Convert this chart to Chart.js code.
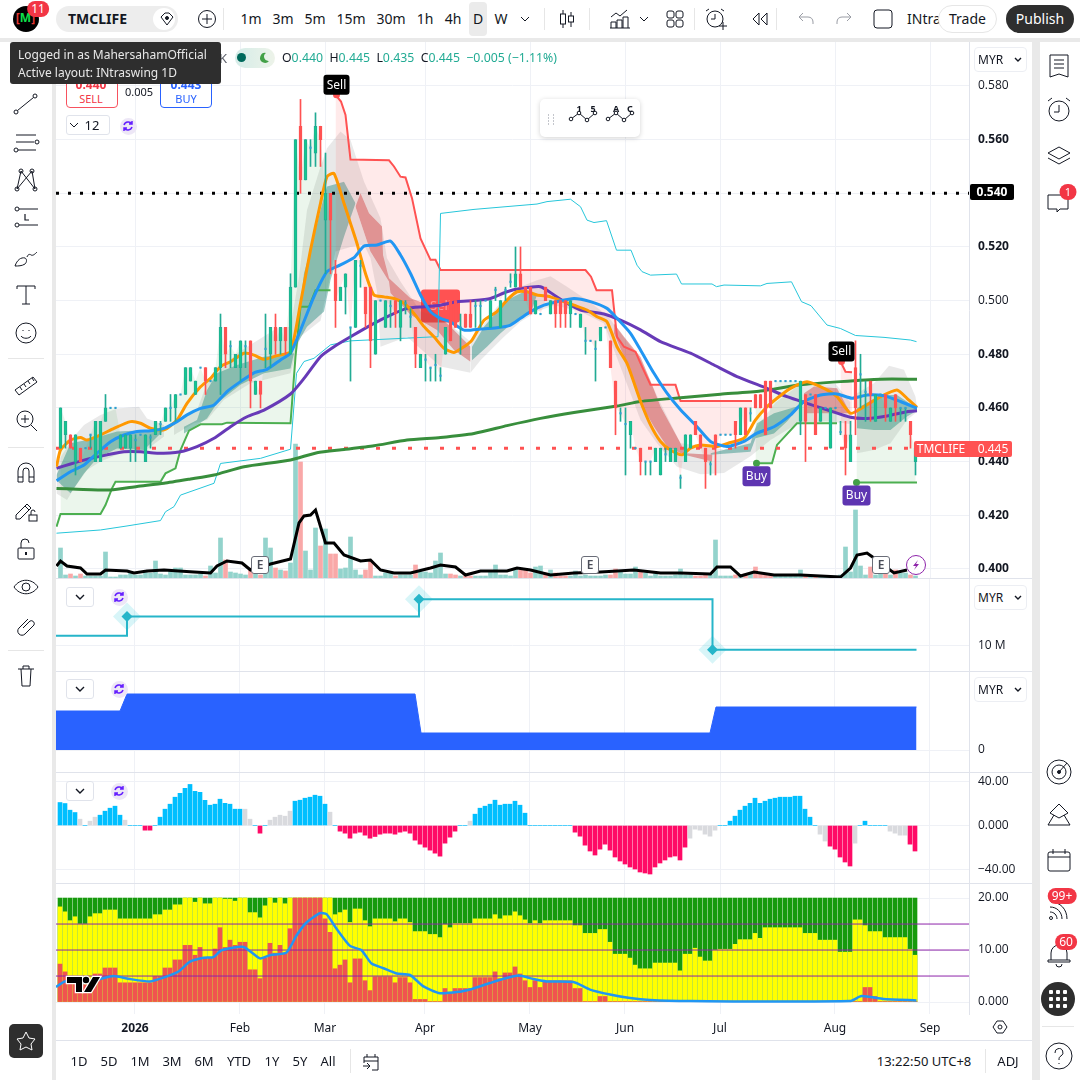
<!DOCTYPE html>
<html>
<head>
<meta charset="utf-8">
<title>TMCLIFE</title>
<script src="https://cdn.jsdelivr.net/npm/chart.js@4"></script>
<style>
  html, body { margin: 0; padding: 0; background: #e9e9e9; }
  body { width: 1080px; height: 1080px; position: relative; overflow: hidden; font-family: "Noto Sans", sans-serif; color: #131722; }
  .panel { position: absolute; background: #fff; }
  canvas { position: absolute; left: 56px; }
  .c { position: absolute; transform: translate(-50%, -50%); white-space: nowrap; line-height: 1; }
  .l { position: absolute; transform: translateY(-50%); white-space: nowrap; line-height: 1; }
  .hr { position: absolute; left: 56px; width: 976px; height: 1px; background: #e0e3eb; }
  svg { position: absolute; transform: translate(-50%, -50%); fill: none; stroke: #131722; stroke-width: 1; overflow: visible; }
  .badge { position: absolute; transform: translate(-50%, -50%); background: #f23645; color: #fff; border-radius: 10px; font-size: 12px; line-height: 16px; padding: 0 4px; min-width: 9px; text-align: center; }
</style>
</head>
<body>
<div class="panel" style="left:0;top:0;width:1080px;height:38px"></div>
<div class="panel" style="left:0;top:42px;width:52px;height:1038px"></div>
<div class="panel" style="left:56px;top:42px;width:976px;height:1038px"></div>
<div class="panel" style="left:1040px;top:42px;width:40px;height:1038px"></div>

<canvas id="mainPane" style="top:42px" width="976" height="536"></canvas>
<canvas id="stepPane" style="top:579px" width="976" height="92"></canvas>
<canvas id="areaPane" style="top:672px" width="976" height="100"></canvas>
<canvas id="oscPane" style="top:773px" width="976" height="110"></canvas>
<canvas id="flowPane" style="top:884px" width="976" height="156"></canvas>

<div class="hr" style="top:578px"></div>
<div class="hr" style="top:671px"></div>
<div class="hr" style="top:772px"></div>
<div class="hr" style="top:883px"></div>
<div class="hr" style="top:1040px"></div>
<div id="ui"></div>

<script>
// ---- data, x is the bar number (0 = first full bar) ----
var barCount = 172;
var monthTicks = [15, 36, 53, 73, 94, 113, 132, 155, 174];
var monthLabels = ['2026', 'Feb', 'Mar', 'Apr', 'May', 'Jun', 'Jul', 'Aug', 'Sep'];
var priceTicks = [0.58, 0.56, 0.54, 0.52, 0.50, 0.48, 0.46, 0.44, 0.42, 0.40];

var opens = [.445,.45,.45,.44,.445,.445,.45,.44,.44,.455,.46,.46,.445,.445,.445,.448,.45,.44,.449,.45,.454,.455,.46,.46,.465,.465,.47,.465,.475,.475,.47,.47,.475,.49,.483,.475,.475,.483,.485,.465,.47,.482,.48,.49,.485,.49,.48,.505,.565,.545,.557,.555,.565,.53,.54,.51,.50,.505,.49,.49,.513,.505,.505,.48,.50,.49,.498,.50,.49,.499,.494,.49,.475,.478,.475,.476,.472,.48,.50,.50,.49,.495,.495,.498,.498,.50,.49,.504,.49,.504,.507,.505,.51,.505,.505,.495,.495,.505,.495,.50,.50,.50,.495,.495,.49,.485,.485,.482,.485,.49,.485,.47,.458,.454,.45,.445,.445,.44,.44,.44,.435,.4427,.44,.44,.434,.44,.445,.455,.45,.445,.439,.45,.45,.45,.45,.455,.45,.46,.458,.465,.465,.47,.47,.47,.47,.47,.47,.47,.455,.465,.465,.465,.455,.46,.445,.46,.451,.45,.44,.475,.4725,.466,.47,.455,.465,.465,.455,.465,.46,.46,.455,.44];
var highs = [.46,.455,.45,.45,.445,.445,.45,.455,.455,.465,.46,.46,.45,.45,.45,.45,.45,.45,.45,.455,.455,.46,.465,.465,.465,.475,.475,.47,.475,.475,.47,.475,.495,.49,.485,.48,.485,.485,.485,.47,.47,.495,.49,.495,.49,.49,.51,.56,.575,.56,.56,.57,.565,.555,.54,.515,.505,.51,.49,.515,.515,.505,.505,.50,.50,.50,.50,.50,.50,.50,.497,.49,.48,.48,.475,.48,.475,.49,.50,.50,.495,.495,.50,.50,.50,.50,.50,.505,.50,.505,.51,.52,.52,.505,.505,.50,.495,.505,.50,.50,.50,.50,.50,.495,.495,.49,.485,.485,.49,.49,.485,.47,.46,.46,.455,.445,.445,.44,.44,.445,.445,.445,.445,.445,.435,.45,.45,.455,.45,.445,.44,.45,.45,.45,.45,.455,.46,.46,.46,.465,.465,.47,.47,.47,.47,.47,.47,.47,.47,.465,.465,.465,.46,.46,.46,.46,.455,.455,.455,.485,.48,.47,.47,.465,.465,.465,.46,.465,.46,.46,.455,.445];
var lows = [.445,.445,.445,.435,.44,.445,.445,.44,.44,.455,.46,.46,.445,.445,.44,.44,.45,.44,.445,.45,.45,.455,.455,.455,.465,.465,.47,.465,.475,.465,.47,.47,.465,.475,.475,.475,.47,.475,.46,.465,.46,.475,.475,.48,.48,.48,.48,.505,.54,.545,.55,.55,.55,.51,.51,.49,.50,.495,.47,.49,.505,.49,.475,.48,.50,.49,.49,.49,.485,.495,.49,.475,.475,.47,.47,.47,.47,.48,.485,.49,.48,.49,.49,.49,.49,.50,.49,.50,.49,.50,.505,.505,.505,.50,.495,.495,.495,.50,.495,.49,.49,.49,.49,.495,.49,.48,.485,.47,.485,.49,.475,.45,.455,.435,.445,.445,.435,.435,.435,.44,.435,.44,.44,.44,.43,.44,.445,.45,.445,.43,.435,.435,.45,.45,.45,.445,.45,.45,.455,.46,.46,.45,.46,.47,.47,.47,.47,.47,.45,.44,.465,.45,.455,.46,.445,.46,.45,.435,.44,.45,.46,.455,.455,.455,.465,.455,.455,.455,.455,.455,.445,.435];
var closes = [.46,.455,.445,.45,.44,.445,.45,.455,.455,.46,.46,.46,.45,.45,.45,.448,.45,.45,.449,.455,.454,.46,.46,.465,.465,.475,.475,.47,.475,.47,.47,.475,.49,.48,.483,.48,.485,.483,.47,.47,.465,.482,.49,.485,.49,.485,.505,.56,.545,.56,.557,.565,.56,.54,.53,.50,.505,.51,.49,.515,.513,.495,.485,.50,.50,.50,.498,.495,.50,.499,.494,.48,.48,.478,.475,.476,.472,.49,.485,.49,.49,.49,.49,.498,.498,.50,.50,.504,.50,.504,.507,.51,.505,.50,.495,.50,.495,.50,.50,.495,.495,.495,.50,.495,.495,.485,.485,.482,.49,.49,.475,.46,.458,.454,.455,.445,.44,.44,.44,.445,.445,.4427,.445,.445,.434,.45,.45,.45,.445,.44,.439,.445,.45,.45,.45,.45,.46,.45,.458,.46,.46,.45,.46,.47,.47,.47,.47,.47,.47,.455,.465,.45,.46,.46,.46,.46,.451,.445,.45,.46,.4725,.466,.465,.465,.465,.46,.46,.46,.46,.46,.45,.445];
var volumes = [30,3,4,2,4,2,2,2,2,26,1,1,3,3,6,3,3,6,5,17,4,3,8,10,10,3,3,3,4,2,12,5,40,18,6,5,4,3,10,4,3,40,30,10,8,7,15,134,116,27,8,50,32,49,24,24,9,10,41,8,3,8,17,2,2,5,5,2,3,3,3,13,6,6,5,17,25,4,4,3,2,2,2,2,2,2,7,13,3,3,2,10,8,8,5,11,12,5,8,5,2,2,2,7,2,3,2,2,2,3,3,9,7,4,4,11,6,5,2,4,2,2,2,3,9,3,3,2,2,3,3,38,2,2,2,3,3,4,4,11,5,4,3,2,2,2,2,3,8,3,3,2,2,2,2,2,3,31,6,68,12,3,11,3,4,5,3,8,5,5,3,2];
var volumeUpBars = [131, 157, 159];

var blackLine = [[-.8,12],[0,17],[1.3,12],[4,10],[5.3,4],[8,4],[9,8],[13.3,7],[14.7,5],[17.3,7],[20.7,8],[26.7,6],[30,5],[31.3,12],[33.3,17],[36.3,15],[38,8],[42,14],[46,19],[47.7,55],[48.7,62],[50,63],[51,68],[53,35],[54.7,35],[56.7,23],[60,17],[62,18],[64,8],[66.7,5],[70,5],[74,10],[76,13],[79,11],[81,3],[84,7],[89.3,7],[91.3,10],[94,8],[98,3],[102.7,5],[108,6],[114.7,8],[120,5],[124,5],[130,4],[131.3,11],[134,11],[136,2],[138.7,6],[142.7,3],[148,3],[156,1],[158,10],[159.3,23],[161.3,25],[162.7,20],[166.7,5],[169.3,8]];
var orangeLine = [[-.8,.4381],[0,.4443],[2,.448],[4,.449],[5.3,.448],[8,.4499],[10.7,.4524],[14,.4549],[16,.4543],[18,.4524],[20.7,.4518],[23.3,.4555],[25.3,.4617],[28,.4679],[30,.471],[32,.4754],[34,.4772],[36.7,.4804],[38.7,.4797],[40.7,.4781],[43.3,.4795],[46,.481],[48,.499],[50,.5189],[52,.5363],[53.3,.5462],[54.7,.5474],[56.7,.5363],[58,.5288],[59.3,.5213],[61,.5101],[62.7,.5021],[64.7,.5014],[66.7,.5008],[68.7,.499],[70.7,.4952],[72.7,.4903],[74.7,.4865],[76.7,.4822],[78.7,.4807],[80.7,.4828],[82.3,.4853],[84.7,.4927],[87.3,.4959],[89.3,.5002],[91.3,.5033],[93.3,.5033],[95.3,.5021],[98,.5014],[100.7,.4996],[102.7,.4983],[105.3,.4965],[107.3,.494],[109.3,.4921],[111.3,.4828],[113.3,.4766],[116,.4625],[118,.4537],[120,.4475],[122,.4443],[124.3,.4425],[126,.445],[128,.4462],[131.3,.4456],[134,.4471],[136.7,.4487],[139,.4555],[141,.4599],[143.3,.4636],[146,.4673],[149.3,.4698],[152.7,.4673],[155.3,.4642],[158,.458],[160.7,.4605],[164,.4642],[167.3,.4667],[169.3,.4636],[171.3,.4602]];
var blueLine = [[-.8,.4329],[2,.4362],[4.7,.4387],[7.3,.4431],[10,.4474],[12.7,.4499],[15.3,.4512],[18,.4515],[20.7,.4524],[23.3,.4549],[25.3,.4574],[28,.4598],[30.7,.4611],[33.3,.4661],[36,.4698],[38.7,.4731],[41.3,.4744],[44,.4779],[46,.4804],[48,.489],[50.7,.5015],[53.3,.5108],[56,.5133],[58.7,.5160],[60.7,.5203],[63.3,.5207],[66,.5222],[68,.517],[70,.5101],[72,.5021],[74,.4959],[76,.4934],[78,.4921],[80.7,.489],[84,.4894],[87.3,.4899],[90,.4909],[92,.4934],[94,.4959],[96.7,.4983],[99.3,.4996],[102.7,.5008],[106,.4996],[109.3,.4971],[111.3,.4934],[114,.4878],[116,.4816],[118.7,.4729],[121.3,.4655],[124,.4593],[127.3,.453],[130,.4475],[133.3,.4456],[136.7,.4475],[139.3,.4506],[142.7,.453],[146,.4574],[148.7,.4624],[152,.4648],[155.3,.4652],[158.3,.4636],[161.3,.4648],[164.7,.4645],[168,.4624],[171.3,.4599]];
var purpleLine = [[-.8,.4375],[2,.4391],[6,.4412],[9.3,.4425],[12.7,.4437],[16,.4437],[19.3,.4431],[24,.4437],[27.3,.4456],[30.7,.4487],[34,.453],[37.3,.4567],[40.7,.4592],[46,.4652],[48.7,.471],[52,.4791],[54.7,.4828],[58,.4865],[62.7,.4915],[66,.4946],[69.3,.4971],[72.7,.4977],[76,.4983],[79.3,.4996],[82.7,.5],[86,.5008],[89.3,.5033],[92,.5045],[96,.5052],[98.7,.5021],[101.3,.499],[104,.4965],[108.7,.495],[112,.4927],[116,.4891],[120,.4847],[126,.4804],[130.7,.476],[135.3,.4717],[141.3,.4673],[145.3,.4642],[149.3,.4617],[153.3,.4593],[158,.4565],[161.3,.4561],[165.3,.457],[169.3,.4586],[171.3,.4589]];
var slowLine = [[-.8,.43],[3.3,.4297],[10,.4294],[15.3,.4307],[20.7,.4319],[26,.4335],[30.7,.435],[36.7,.4381],[46,.4406],[51.3,.4433],[56.7,.4445],[62.7,.4459],[69.3,.448],[76,.449],[82.7,.4505],[89.3,.4534],[96,.4561],[102.7,.4583],[111.3,.4607],[116,.4624],[124,.4638],[132,.4651],[140,.4663],[148,.4686],[156,.4698],[164,.4707],[171.3,.4707]];
var cyanLine = [[-.8,.4133],[8,.4145],[13.3,.416],[20,.418],[21,.4213],[22.7,.4232],[24,.4275],[30.7,.4319],[32,.4393],[40,.4412],[46,.4446],[47.2,.4729],[48.7,.4773],[50.7,.4785],[54,.4835],[58,.485],[74.7,.4865],[75.5,.4865],[76,.5325],[82.7,.534],[95.3,.536],[97.3,.5369],[102,.5378],[104,.535],[105.3,.53],[106.7,.5291],[109.2,.5298],[111.2,.5188],[114.1,.5188],[115.3,.5132],[116.3,.5108],[118,.5095],[123.2,.5099],[124.2,.5062],[130.3,.5062],[131.2,.5052],[132.7,.5058],[140,.5055],[141.3,.5064],[146.2,.507],[148.2,.4996],[150.1,.4981],[153.3,.4909],[156,.4896],[159,.487],[164.7,.4863],[170,.4853],[171.2,.4847]];

var stopRedA = [[55,.5767],[56.1,.5742],[57,.5692],[58,.5526],[65.7,.5523],[66.7,.55],[68,.5462],[69,.5459],[70.3,.5382],[72,.5232],[74,.5152],[75,.5152],[76,.5114],[105,.5114],[106.1,.5089],[107.2,.5039],[110.3,.5039],[111.3,.4865],[112.7,.4828],[115,.4809],[116.3,.4754],[118,.4686],[123,.4686],[124,.4626],[138.3,.4626]];
var stopRedB = [[156,.4773],[157,.4735],[158.3,.4733]];
var stopGreenA = [[-.8,.4157],[0,.4205],[8,.4205],[9,.4238],[10.3,.43],[11,.4325],[20,.4325],[21,.4356],[23,.4375],[24,.4443],[25.7,.4515],[28,.4539],[32.3,.4539],[33.3,.4545],[46,.4543],[47,.4791],[48,.4977],[49.7,.4977],[51,.5039],[54,.5039]];
var stopGreenB = [[139,.4394],[142.3,.4394],[143.3,.4462],[147.3,.4543],[155.3,.4543]];
var stopGreenC = [[159.2,.4322],[171.3,.4322]];

// cloud edges, upper then lower
var grayA = [[[-.8,.4394],[2.7,.4493],[4.7,.4536],[8,.4574],[11.3,.4598],[15.7,.4604],[17.3,.4561],[20.7,.4536]], [[-.8,.4281],[1.3,.4257],[2.7,.43],[5.3,.4369],[8,.44],[12,.4431],[16.7,.4437],[20.7,.4493]]];
var grayB = [[[22.7,.4543],[27.3,.4592],[29.3,.4692],[35.3,.4804],[38,.4835],[43.3,.4897],[46,.4903],[47.7,.5089],[49.3,.5338],[52,.5499],[53.3,.5568],[56,.563],[58,.5599],[60.7,.5444],[64,.5307],[65.3,.5158],[68,.5071],[72,.4959],[76,.494],[82,.4847]], [[22.7,.4499],[26.7,.4543],[29.3,.4555],[32.7,.463],[38,.4692],[46,.4729],[48,.4866],[52,.4925],[55,.5183],[58,.52],[60.7,.5208],[62,.5158],[63.3,.5034],[64,.4828],[69.3,.4865],[76,.4754],[82,.4731]]];
var grayD = [[[82,.4847],[87.3,.4977],[92,.5052],[95.3,.5076],[98,.5091],[101.3,.5052],[105.3,.5002],[109.3,.4946],[116,.478],[120,.4617],[124,.4468],[130.3,.4454],[132.7,.4444],[138,.45],[143,.462],[147.3,.468],[155,.469],[158,.462]], [[82,.4731],[84,.4778],[88.7,.4865],[92,.4921],[95.3,.4959],[98.7,.4983],[104,.4959],[108.7,.4915],[116,.4555],[119.3,.4468],[123.3,.4381],[128,.4353],[132.7,.4357],[138,.442],[142,.448],[147.3,.454],[153,.455],[158,.454]]];
var grayG = [[[159.3,.4655],[162.7,.4692],[165.7,.4757],[168.7,.4742],[171,.4642],[171.3,.4602]], [[159.3,.4431],[162.7,.4443],[166,.4468],[169.3,.4555],[171.3,.4586]]];
var tealA = [[[-.8,.435],[2,.4468],[6,.4483],[11.3,.4512],[18,.4518],[20.7,.4518]], [[-.8,.433],[2,.4282],[4.7,.4356],[7.3,.4412],[11.3,.4449],[16.7,.4443],[20.7,.4518]]];
var tealB = [[[24.7,.453],[27.3,.4555],[29.3,.4667],[31.3,.4729],[35.3,.476],[40.7,.4791],[46.7,.4804],[47,.4828]], [[24.7,.4505],[29.3,.4561],[31.3,.4617],[36,.4686],[40.7,.4729],[46,.4747],[47,.4828]]];
var tealC = [[[47,.4828],[48.7,.5102],[50,.5189],[52,.5338],[53.3,.5425],[56.7,.5443],[59,.5363]], [[47,.4828],[49.3,.4903],[52.7,.4959],[54,.5077],[56.7,.5238],[59,.5363]]];
var tealD = [[[82.3,.4828],[84.7,.4903],[89.3,.5002],[93.3,.5039],[95.3,.5021]], [[82.3,.4778],[85.3,.4828],[88,.4878],[90.7,.4921],[94,.4952],[95.3,.5021]]];
var tealE = [[[130,.4431],[138,.4468],[139.3,.4543],[142.7,.458],[147.3,.4605]], [[130,.4425],[138,.4437],[139,.4487],[142.7,.4505],[145.3,.4549],[147.3,.4593]]];
var tealF = [[[159.3,.4599],[164,.4648],[167.3,.4648],[171.3,.4599]], [[159.3,.4524],[162.7,.4518],[166,.4518],[169.3,.4568],[171.3,.4589]]];
var redA = [[[59,.5351],[60,.54],[61.7,.5326],[64.3,.5276],[64.5,.517],[65.7,.5083],[70,.5009],[72.7,.499],[78,.4903],[82,.4828]], [[59,.5351],[62,.5183],[65.7,.5071],[66,.5028],[70,.4947],[75.3,.489],[78.7,.4816],[82,.4772]]];
var redB = [[[110.7,.4915],[112.7,.4865],[116,.479],[118,.47],[120,.4605],[124,.4468],[125,.4431],[130.3,.4425]], [[110.7,.4878],[113.3,.4766],[116,.4617],[118.7,.453],[121.3,.4456],[124.7,.4425],[130.3,.44]]];
var redC = [[[148.7,.4655],[150.7,.468],[155.3,.4673],[158,.458]], [[148.7,.458],[153.3,.458],[158,.458]]];

var priceLevels = [0.54, 0.445];
var signalBars = [55.2, 156.2, 139.2, 159.2];
var signalPrices = [0.5767, 0.4773, 0.4394, 0.4322];
var signalTexts = ['Sell', 'Sell', 'Buy', 'Buy'];
var blockBar = 76, blockPrice = 0.5;

var stepBars = [-0.8, 13.4, 71.8, 130.5, 171.3];
var stepValues = [10.43, 11.26, 12.0, 9.83, 9.83];
var markerBars = [13.4, 71.8, 130.5];
var markerValues = [11.26, 12.0, 9.83];

var areaBars = [-0.8, 12, 13.4, 71, 72.2, 130, 131.2, 171.3];
var areaValues = [39, 39, 56, 56, 17, 17, 43, 43];

var oscValues = [20.7,19.8,13.8,11.7,5.7,0,3.9,7.5,9.3,12.9,15.6,17.4,9.3,4.8,0,0,0,-4.2,-4.2,0,7.5,14.7,19.2,25.5,29,33.5,37,30.8,29.9,22.7,18.3,19.2,23.7,20,19.2,14.7,14.7,14.7,5.7,0,-6.9,0,4.8,7.5,9.3,8.4,12.9,21.9,22.8,24.6,25.5,27.3,26.4,19.2,12,0,-5.1,-6.9,-11.4,-6.9,-6,-8.7,-11.4,-9.9,-7.8,-6.9,-6.9,-7.8,-6,-5.1,-6.9,-13.2,-16.8,-19.5,-22.2,-24.9,-27.6,-15.9,-10.5,-5.1,0,0,3.9,10.2,15.6,17.4,19.2,22.8,18.3,19.2,19.2,21.9,18.3,11.1,0,0,0,0,0,0,0,0,0,-6,-9.6,-17.7,-23,-26.6,-21.3,-16.8,-22.2,-28.4,-32,-34.7,-37.4,-39.2,-41.9,-42.8,-43.7,-37.4,-33.8,-31.1,-28.4,-27.5,-31.1,-19.5,-11.4,-3.3,-4.2,-7.8,-9.6,-4.2,0,0,3.9,8.4,13.8,17.4,20,24.6,20,21.9,23.7,24.6,25.5,25.5,25.5,26.4,26.4,14.7,7.5,0,-7.8,-14,-18.6,-21.3,-28.4,-32.9,-36.5,-15.9,0,3.9,0,0,0,0,-5.1,-6.9,-8.7,-8.7,-16.8,-23];
var oscGray = [4,6,7,13,37,38,42,43,44,45,46,54,82,126,127,128,129,130,131,152,153,159,166,167,168,169];

var yellowTop = [18.3,17.35,15.65,16.4,15,15,16.4,17,17,17.7,17.7,17.7,16,16,16,16,16,16,16,16.8,16.8,17.7,17.7,18.7,18.7,20,20,19.2,20,18.9,18.9,20,20,19.8,19.8,19.4,20,20,17.2,17.2,16.2,18.5,20,19.05,20,18.9,20,20,20,20,20,20,20,20,20,16.8,17.2,17.7,15.3,17.9,17.9,15.65,14.5,16,16,16,16,15.45,16,16,15.3,13.55,13.55,13.55,13,13,12.4,14.9,14.3,15.1,15.1,15.1,15.1,16,16,16,16,16.8,16,16.6,16.6,17.35,16.6,15.8,15.1,15.65,15.1,15.65,15.65,15.65,15.65,15.65,15.65,14.7,14.7,13.2,13.2,13.2,13.95,13.95,11.5,9.2,9.2,9.2,8.45,7.1,6.4,6.4,6.4,7.5,7.5,7.5,7.5,7.5,6,9.2,9.2,10.35,8.65,7.9,7.9,10,10.15,10.15,10.15,11.1,12,12,12,13.2,12.25,14.3,14.3,14.3,14.3,14.3,14.3,14.3,14.3,13.2,13.2,13.2,11.9,11.9,11.9,11.9,9.6,9.6,9.6,15.8,15.8,14.7,13.55,13.55,13.55,12.4,12.4,12.4,12.4,12.4,10.15,9];
var redTop = [7.3,5.8,4.3,4.3,3.65,3.35,4.1,5.4,5.4,6.55,6.55,6.55,3.7,3.7,3.7,3.7,3.7,3.7,3.7,4.9,4.9,6.55,6.55,8.1,8.1,10.9,10.9,9,10.5,8.6,8.6,10.2,14.3,10.5,11.9,10.9,11.5,11.5,6.2,6.2,4.5,8.45,11.3,9.4,10.9,9.4,14.1,20,20,20,20,20,20,16,13.4,6.4,7.1,8.1,3.7,8.3,8.3,4.1,2.2,4.85,4.85,4.85,4.85,3.7,4.7,4.7,3.7,.5,.5,.5,.1,.1,.1,2.6,1.8,2.6,2.6,2.6,2.6,4.7,4.7,4.7,4.7,5.8,4.5,5.6,5.6,6.75,5.4,4.1,2.8,4.1,2.8,4.1,4.1,4.1,4.1,4.1,4.1,2.6,2.6,.1,.1,.1,1.07,1.07,.1,.1,.1,.1,.1,.1,.1,.1,.1,.1,.1,.1,.1,.1,.1,.1,.1,.1,.1,.1,.1,.1,.1,.1,.1,.1,.1,.1,.1,.1,.1,.1,.1,.1,.1,.1,.1,.1,.1,.1,.1,.1,.1,.1,.1,.1,.1,.1,.1,.1,.1,2.8,2.8,1.07,.1,.1,.1,.1,.1,.1,.1,.1,.1,.1];
var greenTop = 20;
var flowLine = [[-.8,2.9],[1,3.97],[4.7,3.66],[8,4.42],[10.7,5],[14,4.42],[18,3.97],[21,4.8],[23.7,5.87],[26,7.76],[28.7,8.52],[30.7,8.64],[32.3,9.97],[36.7,10.6],[40,8.4],[42,9],[45.3,9.53],[47.3,12.8],[49.3,15.3],[52,17.1],[53.3,16.9],[55.3,14.1],[58,10.8],[60.3,9.97],[62.3,7.4],[64.7,6.5],[67.3,5.5],[70,5.2],[72.7,3],[76,1.7],[80,2],[82,2.4],[86,3.66],[88.7,4.48],[91.7,5.11],[94.7,4.42],[97.3,3.97],[102.7,3.85],[106,2.4],[110,1.45],[114,.76],[118,.38],[126,.19],[158,.19],[160.3,1.14],[164.7,.57],[171.3,.32]];
var flowLevels = [15, 10, 5];

// ---- colours ----
var upColor = '#13c98d', upEdge = '#22ab94', downColor = '#ff5252';
var gridColor = '#eff1f6', axisColor = '#e0e3eb';
// 5 px per bar over the 913 px plot; the price pane sits half a pixel over so 1 px wicks stay sharp
var xMin = -0.8, xMax = 181.8;
var mainXMin = -0.9, mainXMax = 181.7;

function bars() {
    var out = [];
    for (var i = 0; i < barCount; i++) out.push(i);
    return out;
}
function toXY(list) {
    return list.map(function(p) { return {x: p[0], y: p[1]}; });
}
function lineSet(list, color, width, order, extra) {
    var ds = {type: 'line', data: toXY(list), borderColor: color, borderWidth: width, pointRadius: 0, fill: false, order: order, tension: 0, yAxisID: 'y'};
    for (var k in extra) ds[k] = extra[k];
    return ds;
}
function xAxis(showLabels, min, max) {
    return {
        type: 'linear', min: min === undefined ? xMin : min, max: max === undefined ? xMax : max, offset: false,
        border: {display: false},
        grid: {color: gridColor, drawTicks: false, offset: false},
        afterBuildTicks: function(scale) {
            scale.ticks = monthTicks.map(function(v) { return {value: v}; });
        },
        afterFit: function(scale) {
            scale.height = showLabels ? 26 : 0;
            scale.paddingLeft = 0;
            scale.paddingRight = 0;
        },
        ticks: {
            display: showLabels, autoSkip: false, maxRotation: 0, padding: 7, color: '#131722',
            font: function(ctx) {
                return {family: 'Noto Sans', size: 12, weight: ctx.tick && ctx.tick.value === 15 ? '700' : '400'};
            },
            callback: function(v) { return monthLabels[monthTicks.indexOf(v)]; }
        }
    };
}
function yAxis(min, max, ticks, labels, boldFn) {
    return {
        position: 'right', min: min, max: max,
        border: {color: axisColor},
        grid: {color: gridColor, drawTicks: false},
        afterBuildTicks: function(scale) {
            scale.ticks = ticks.map(function(v) { return {value: v}; });
        },
        afterFit: function(scale) {
            scale.width = 63;
            scale.paddingTop = 0;
            scale.paddingBottom = 0;
        },
        ticks: {
            autoSkip: false, padding: 9, color: '#131722',
            font: function(ctx) {
                return {family: 'Open Sans', size: 12, weight: boldFn && ctx.tick && boldFn(ctx.tick.value) ? '700' : '400'};
            },
            callback: function(v) { return labels[ticks.indexOf(v)]; }
        }
    };
}
function makeChart(id, datasets, scales, plugins) {
    return new Chart(document.getElementById(id), {
        type: 'bar',
        data: {datasets: datasets},
        options: {
            responsive: false, animation: false, events: [],
            layout: {padding: 0, autoPadding: false},
            plugins: {legend: {display: false}, tooltip: {enabled: false}},
            scales: scales
        },
        plugins: plugins || []
    });
}

// ---- main pane ----
var mainSets = [];
var isDown = bars().map(function(i) { return closes[i] < opens[i]; });

// doji ticks, bodies and wicks
mainSets.push({type: 'scatter', yAxisID: 'y', order: 2, pointStyle: 'rect', pointRadius: 1.5, backgroundColor: '#2f9fd0', borderWidth: 0,
    data: bars().filter(function(i) { return opens[i] === closes[i]; }).map(function(i) { return {x: i, y: closes[i]}; })});
mainSets.push({yAxisID: 'y', order: 3, grouped: false, barThickness: 3, borderWidth: 1, borderSkipped: false,
    backgroundColor: bars().map(function(i) { return isDown[i] ? downColor : upColor; }),
    borderColor: bars().map(function(i) { return isDown[i] ? downColor : upEdge; }),
    data: bars().map(function(i) { return {x: i, y: [opens[i], closes[i]]}; })});
mainSets.push({yAxisID: 'y', order: 4, grouped: false, barThickness: 1, borderWidth: 0,
    backgroundColor: bars().map(function(i) { return isDown[i] ? downColor : upEdge; }),
    data: bars().map(function(i) { return {x: i, y: [lows[i], highs[i]]}; })});

mainSets.push(lineSet(blueLine, '#2196f3', 3, 5, {tension: 0.2}));
mainSets.push(lineSet(orangeLine, '#ff9800', 3, 6, {tension: 0.2}));
mainSets.push(lineSet(purpleLine, '#673ab7', 3, 6.5, {tension: 0.2}));
mainSets.push(lineSet(slowLine, '#388e3c', 3, 7, {tension: 0.2}));
mainSets.push(lineSet(blackLine, '#000000', 3, 8, {yAxisID: 'yLine'}));
mainSets.push(lineSet([[mainXMin, priceLevels[0]], [mainXMax, priceLevels[0]]], '#000000', 3, 9, {borderDash: [3, 9]}));
mainSets.push(lineSet([[mainXMin, priceLevels[1]], [mainXMax, priceLevels[1]]], '#ff5252', 3, 9, {borderDash: [4, 12]}));
mainSets.push(lineSet(cyanLine, '#26c6da', 1, 10));

// clouds, each an upper edge filled to a hidden lower edge
function band(edges, color, order) {
    mainSets.push(lineSet(edges[1], 'transparent', 0, order));
    mainSets.push(lineSet(edges[0], 'transparent', 0, order, {fill: {target: mainSets.length - 1}, backgroundColor: color}));
}
[tealA, tealB, tealC, tealD, tealE, tealF].forEach(function(b) { band(b, 'rgba(0,121,107,0.38)', 20); });
[redA, redB, redC].forEach(function(b) { band(b, 'rgba(198,40,40,0.40)', 21); });
[grayA, grayB, grayD, grayG].forEach(function(b) { band(b, 'rgba(120,120,120,0.16)', 22); });

// stop lines, with the pale fill reaching to the closes
mainSets.push(lineSet(bars().map(function(i) { return [i, closes[i]]; }), 'transparent', 0, 40));
var closeIndex = mainSets.length - 1;
[stopRedA, stopRedB].forEach(function(s) {
    mainSets.push(lineSet(s, '#ff5252', 2, 12, {fill: {target: closeIndex}, backgroundColor: 'rgba(255,82,82,0.12)'}));
});
[stopGreenA, stopGreenB, stopGreenC].forEach(function(s) {
    mainSets.push(lineSet(s, '#4caf50', 2, 12, {fill: {target: closeIndex}, backgroundColor: 'rgba(76,175,80,0.11)'}));
});

// volume on the bottom of the pane
mainSets.push({yAxisID: 'yVol', order: 50, grouped: false, barThickness: 4,
    backgroundColor: bars().map(function(i) { return isDown[i] && volumeUpBars.indexOf(i) < 0 ? '#f9a8a8' : '#93d3cc'; }),
    data: bars().map(function(i) { return {x: i, y: volumes[i]}; })});

// big faded Sell block sits under the lines, the small markers above them
var signalPlugin = {
    id: 'signals',
    beforeDatasetsDraw: function(chart) {
        var c = chart.ctx, s = chart.scales;
        var x = s.x.getPixelForValue(blockBar), y = s.y.getPixelForValue(blockPrice);
        c.save();
        c.fillStyle = '#ff5252';
        c.beginPath();
        c.roundRect(x - 19.5, y - 11, 39, 33, 3);
        c.fill();
        c.fillStyle = 'rgba(255,255,255,0.45)';
        c.font = '13px "Noto Sans"';
        c.textAlign = 'center';
        c.textBaseline = 'middle';
        c.fillText('Sell', x, y + 6);
        c.restore();
    },
    afterDatasetsDraw: function(chart) {
        var c = chart.ctx, s = chart.scales;
        c.save();
        c.font = '12px "Noto Sans"';
        c.textAlign = 'center';
        c.textBaseline = 'middle';
        signalBars.forEach(function(b, i) {
            var x = s.x.getPixelForValue(b), y = s.y.getPixelForValue(signalPrices[i]);
            var sell = signalTexts[i] === 'Sell';
            c.fillStyle = sell ? '#ff5252' : '#43a047';
            c.beginPath();
            c.arc(x, y, 3.5, 0, Math.PI * 2);
            c.fill();
            var w = sell ? 26 : 28, h = 20, top = sell ? y - 20 : y + 3;
            c.fillStyle = sell ? '#000000' : '#5e35b1';
            c.beginPath();
            c.roundRect(x - w / 2, top, w, h, 3);
            c.fill();
            c.fillStyle = '#ffffff';
            c.fillText(signalTexts[i], x, top + h / 2 + 0.5);
        });
        c.restore();
    }
};

makeChart('mainPane', mainSets, {
    x: xAxis(false, mainXMin, mainXMax),
    y: yAxis(0.3966, 0.5964, priceTicks, priceTicks.map(function(v) { return v.toFixed(3); }), function(v) { return v !== 0.58 && v !== 0.5; }),
    yVol: {display: false, min: 0, max: 536},
    yLine: {display: false, min: 0, max: 536}
}, [signalPlugin]);

// ---- step pane ----
var markerPoints = markerBars.map(function(b, i) { return {x: b, y: markerValues[i]}; });
makeChart('stepPane', [
    {type: 'scatter', yAxisID: 'y', order: 1, pointStyle: 'rectRot', pointRadius: 5.5, backgroundColor: '#26b5c9', borderWidth: 0, data: markerPoints},
    {type: 'scatter', yAxisID: 'y', order: 3, pointStyle: 'rectRot', pointRadius: 14, backgroundColor: 'rgba(38,198,218,0.18)', borderWidth: 0, data: markerPoints},
    {type: 'line', yAxisID: 'y', order: 2, stepped: 'before', borderColor: '#26b5c9', borderWidth: 2, pointRadius: 0, fill: false,
        data: stepBars.map(function(b, i) { return {x: b, y: stepValues[i]}; })}
], {
    x: xAxis(false),
    y: yAxis(8.91, 12.87, [10], ['10 M'])
});

// ---- blue area pane ----
makeChart('areaPane', [
    {type: 'line', yAxisID: 'y', fill: 'origin', backgroundColor: '#2962ff', borderColor: '#2962ff', borderWidth: 1, pointRadius: 0,
        data: areaBars.map(function(b, i) { return {x: b, y: areaValues[i]}; })}
], {
    x: xAxis(false),
    y: yAxis(-22, 78, [0], ['0'])
});

// ---- oscillator pane ----
makeChart('oscPane', [
    {yAxisID: 'y', order: 1, grouped: false, barThickness: 4,
        backgroundColor: bars().map(function(i) {
            if (oscGray.indexOf(i) >= 0) return '#d9dade';
            return oscValues[i] >= 0 ? '#00bfff' : '#ff0a66';
        }),
        data: bars().map(function(i) { return {x: i, y: oscValues[i]}; })},
    lineSet([[xMin, 0], [171.3, 0]], '#eceef2', 1, 2, {borderDash: [4, 2]})
], {
    x: xAxis(false),
    y: yAxis(-51.8, 47.3, [40, 0, -40], ['40.00', '0.000', '\u221240.00'])
});

// ---- money flow pane ----
var flowSets = [lineSet(flowLine, '#2196f3', 2.5, 1, {tension: 0.2})];
flowLevels.forEach(function(v) {
    flowSets.push(lineSet([[xMin, v], [xMax, v]], '#8e24aa', 1, 2));
});
flowSets.push({yAxisID: 'y', order: 3, grouped: false, barThickness: 4, backgroundColor: '#f0544f', data: bars().map(function(i) { return {x: i, y: redTop[i]}; })});
flowSets.push({yAxisID: 'y', order: 4, grouped: false, barThickness: 4, backgroundColor: '#ffff00', data: bars().map(function(i) { return {x: i, y: yellowTop[i]}; })});
flowSets.push({yAxisID: 'y', order: 5, grouped: false, barThickness: 4, backgroundColor: '#169a0c', data: bars().map(function(i) { return {x: i, y: greenTop}; })});
makeChart('flowPane', flowSets, {
    x: xAxis(true),
    y: yAxis(-2.3, 22.7, [20, 10, 0], ['20.00', '10.00', '0.000'])
});

// ---- everything around the chart ----
var ui = document.getElementById('ui');
function put(x, y, html, cls, style) {
    var d = document.createElement('div');
    d.className = cls || 'c';
    d.style.left = x + 'px';
    d.style.top = y + 'px';
    if (style) d.style.cssText += style;
    d.innerHTML = html;
    ui.appendChild(d);
    return d;
}
function svg(x, y, w, inner, extra) {
    put(0, 0, '<svg width="' + w + '" height="' + w + '" viewBox="0 0 ' + w + ' ' + w + '" style="left:' + x + 'px;top:' + y + 'px;' + (extra || '') + '">' + inner + '</svg>', 'x', 'position:absolute;');
}
function rect(x, y, w, h, style, cls) {
    put(x, y, '', cls || 'x', 'position:absolute;width:' + w + 'px;height:' + h + 'px;' + style);
}

// top bar
rect(469, 2, 18, 34, 'background:#ebebeb;border-radius:4px;');
[[1, 251], [3, 283], [5, 315], [15, 351], [30, 391]].forEach(function(t) { put(t[1], 19, t[0] + 'm', 'c', 'font-size:14px;'); });
put(425, 19, '1h', 'c', 'font-size:14px;');
put(453, 19, '4h', 'c', 'font-size:14px;');
put(478, 19, 'D', 'c', 'font-size:14px;');
put(501, 19, 'W', 'c', 'font-size:14px;');
rect(56, 6, 122, 26, 'background:#ededed;border-radius:13px;');
put(68, 19, 'TMCLIFE', 'l', 'font-size:14px;font-weight:700;');
rect(153, 8, 22, 22, 'background:#fff;border-radius:50%;');
svg(167, 19, 18, '<path d="M3 7l4-4h4l4 4-6 8z"/><circle cx="9" cy="8" r="1.5" fill="#131722"/>');
svg(207, 19, 20, '<circle cx="10" cy="10" r="8.5"/><path d="M10 5v10M5 10h10"/>');
rect(13, 6, 26, 26, 'background:#000;border-radius:50%;');
put(25.5, 18, '<span style="color:#e53935">[</span>M<span style="color:#e53935">]</span>', 'c', 'color:#0ee04a;font-size:12px;font-weight:700;');
put(38, 9, '11', 'badge');
[223, 544, 589, 694, 776].forEach(function(x) { rect(x, 8, 1, 22, 'background:#e6e6e6;'); });
svg(525, 19, 10, '<path d="M1 3l4 4 4-4"/>');
svg(567, 19, 20, '<path d="M6 1v18M14 3v15"/><rect x="3.5" y="5" width="5" height="10" fill="#fff"/><rect x="11.5" y="7" width="5" height="6" fill="#fff"/>');
svg(620, 19, 22, '<path d="M2 9l5-4 4 3 7-6M2 20v-6h5v6M8 20v-8h5v8M14 20V9h5v11M1 20h20"/>');
svg(644, 19, 10, '<path d="M1 3l4 4 4-4"/>');
svg(675, 19, 20, '<rect x="2" y="2" width="7" height="7" rx="2"/><rect x="11" y="2" width="7" height="7" rx="2"/><rect x="2" y="11" width="7" height="7" rx="2"/><rect x="11" y="11" width="7" height="7" rx="2"/>');
svg(716, 19, 22, '<circle cx="10" cy="11" r="8"/><path d="M10 6v5H6M1 3l3-2M19 3l-3-2M14 18h8M18 14v8"/>');
svg(760, 19, 18, '<path d="M8 3L2 9l6 6zM16 3l-6 6 6 6z"/>');
svg(806, 19, 16, '<path d="M5 2L1 6l4 4M1 6h9c3 0 5 2 5 5v2"/>', 'stroke:#9a9da5;');
svg(844, 19, 16, '<path d="M11 2l4 4-4 4M15 6H6c-3 0-5 2-5 5v2"/>', 'stroke:#9a9da5;');
svg(883, 19, 20, '<rect x="1" y="1" width="18" height="18" rx="3"/>');
put(907, 19, 'INtra', 'l', 'font-size:14px;');
rect(938, 5, 59, 28, 'background:#fff;border:1px solid #e6e6e6;border-radius:14px;box-sizing:border-box;');
put(967.5, 19, 'Trade', 'c', 'font-size:14px;');
rect(1006, 5, 68, 28, 'background:#2e2e2e;border-radius:14px;');
put(1040, 19, 'Publish', 'c', 'font-size:14px;color:#fff;');

// legend strip
put(219, 58, 'K', 'l', 'font-size:13px;color:#5d606b;');
rect(235, 48, 40, 20, 'background:linear-gradient(90deg,#d5ece8,#edf3e9);border-radius:10px;');
rect(234.5, 53, 9, 9, 'background:#00695c;border-radius:50%;margin-left:2.5px;');
svg(264, 58, 12, '<path d="M8 1a5 5 0 1 0 3 8 4.4 4.4 0 0 1-3-8z" fill="#43a047" stroke="none"/>');
put(282, 58, '<span style="color:#131722">O</span>0.440 <span style="color:#131722">&nbsp;H</span>0.445 <span style="color:#131722">&nbsp;L</span>0.435 <span style="color:#131722">&nbsp;C</span>0.445 &nbsp;\u22120.005 (\u22121.11%)', 'l', 'font-size:12.3px;color:#22ab94;');

// order ticket
rect(66, 80, 52, 28, 'background:#fff;border:1px solid #f7525f;border-radius:4px;box-sizing:border-box;');
rect(160, 80, 52, 28, 'background:#fff;border:1px solid #2962ff;border-radius:4px;box-sizing:border-box;');
put(91, 98, 'SELL', 'c', 'font-size:11px;color:#f23645;');
put(186, 98, 'BUY', 'c', 'font-size:11px;color:#2962ff;');
put(91, 85, '0.440', 'c', 'font-size:12px;font-weight:700;color:#f23645;');
put(186, 85, '0.443', 'c', 'font-size:12px;font-weight:700;color:#2962ff;');
put(139, 91, '0.005', 'c', 'font-size:11px;color:#131722;');
rect(66, 115, 44, 20, 'background:#fff;border:1px solid #e0e3eb;border-radius:3px;box-sizing:border-box;');
svg(74, 125, 10, '<path d="M1 3l4 4 4-4"/>');
put(92, 125, '12', 'c', 'font-size:13px;');

function refresh(x, y) {
    rect(x - 8.5, y - 8.5, 17, 17, 'background:#ede7f6;border-radius:50%;');
    svg(x, y, 12, '<path d="M2 5a4.5 4.5 0 0 1 8-1M10 7a4.5 4.5 0 0 1-8 1M10 1v3H7M2 11V8h3"/>', 'stroke:#651fff;stroke-width:1.5;');
}
refresh(128, 126);
[[597], [689], [791]].forEach(function(p) {
    rect(66, p[0] - 10, 28, 20, 'background:#fff;border:1px solid #e0e3eb;border-radius:3px;box-sizing:border-box;');
    svg(80, p[0], 10, '<path d="M1 3l4 4 4-4"/>', 'stroke-width:1.4;');
    refresh(119, p[0]);
});

// login tooltip
rect(10, 42, 211, 42, 'background:#2e2e2e;border-radius:3px;');
put(18, 55, 'Logged in as MahersahamOfficial', 'l', 'font-size:12px;color:#e8e8e8;');
put(18, 73, 'Active layout: INtraswing 1D', 'l', 'font-size:12px;color:#e8e8e8;');

// drawing helper card
rect(540, 99, 100, 38, 'background:#fff;border-radius:5px;box-shadow:0 1px 5px rgba(0,0,0,0.18);');
svg(551, 118, 10, '<path d="M2 2h1M7 2h1M2 5h1M7 5h1M2 8h1M7 8h1M2 11h1M7 11h1" stroke="#c4c6cc" stroke-width="2"/>');
[[583, '1', '5'], [620, 'A', 'C']].forEach(function(w) {
    svg(w[0], 121, 28, '<path d="M2 12l8-6 8 7 8-7"/><circle cx="2" cy="12" r="1.8" fill="#fff"/><circle cx="10" cy="6" r="1.8" fill="#fff"/><circle cx="18" cy="13" r="1.8" fill="#fff"/><circle cx="26" cy="6" r="1.8" fill="#fff"/>');
    put(w[0] - 4, 108, w[1], 'c', 'font-size:9px;font-weight:700;');
    put(w[0] + 10, 108, w[2], 'c', 'font-size:9px;font-weight:700;');
});

// earnings marks and the flash mark
[260, 590, 881].forEach(function(x) {
    rect(x - 9, 556, 18, 18, 'background:#fff;border:1.5px solid #6a6d78;border-radius:3px;box-sizing:border-box;');
    put(x, 565, 'E', 'c', 'font-size:12px;font-weight:600;color:#4a4d58;');
});
rect(906, 555, 20, 20, 'background:#fff;border:1.5px solid #8e24aa;border-radius:50%;box-sizing:border-box;');
svg(916, 565, 10, '<path d="M7 0L2 6h3L3 10l5-6H5z" fill="#8e24aa" stroke="none"/>');

// price tags
rect(970, 184, 44, 16, 'background:#000;border-radius:2px;');
put(992, 192, '0.540', 'c', 'font-size:12px;font-weight:700;color:#fff;font-family:Open Sans;');
rect(914, 441, 98, 16, 'background:#ff5252;border-radius:2px;');
put(941, 449, 'TMCLIFE', 'c', 'font-size:12px;color:#fff;');
put(993, 449, '0.445', 'c', 'font-size:12px;color:#fff;font-family:Open Sans;');

// unit boxes
[[47], [585], [677]].forEach(function(p) {
    rect(974, p[0], 53, 25, 'background:#fff;border:1px solid #eceef3;border-radius:4px;box-sizing:border-box;');
    put(978, p[0] + 12.5, 'MYR', 'l', 'font-size:12px;');
    svg(1018, p[0] + 12.5, 8, '<path d="M1 2l3 3 3-3"/>', 'stroke-width:1.4;');
});

// trading view mark
svg(84, 992, 36, '<g stroke="#fff" stroke-width="2.5"><path d="M1 3h15v15h-6V9H1z" fill="#000"/><circle cx="20" cy="6" r="3.2" fill="#000"/><path d="M27 3h7l-9 15h-7z" fill="#000"/></g><path d="M1 3h15v15h-6V9H1z" fill="#000" stroke="none"/><path d="M27 3h7l-9 15h-7z" fill="#000" stroke="none"/><circle cx="20" cy="6" r="3.2" fill="#000" stroke="none"/>');

// left tools
var leftTools = {
    104: '<circle cx="4" cy="22" r="2"/><circle cx="23" cy="6" r="2"/><path d="M5.5 20.5L21.5 7.5"/>',
    143: '<path d="M4 6h20M4 13h18M6 21h18"/><circle cx="25" cy="13" r="2"/><circle cx="4" cy="21" r="2"/>',
    180: '<path d="M5 23L9 5M9 5l14 18M20 5L5 23M20 5l3 18"/><circle cx="5" cy="23" r="2"/><circle cx="9" cy="5" r="2"/><circle cx="20" cy="5" r="2"/><circle cx="23" cy="23" r="2"/>',
    218: '<path d="M7 5h19M7 21h19M7 13h0"/><circle cx="5" cy="5" r="2"/><circle cx="5" cy="21" r="2"/><path d="M13 10v6h4" stroke-width="1.2"/>',
    258: '<path d="M3 22c2-6 6-9 10-8 2 1 2 4 0 6-3 2-7 2-10 2zM15 13c1-3 3-3 4-2 2 1 4-1 6-3"/>',
    295: '<path d="M5 5h18M14 5v18M10 23h8M5 5v3M23 5v3"/>',
    333: '<circle cx="14" cy="14" r="10"/><path d="M9 17c2 3 8 3 10 0M11 11v1M17 11v1"/>',
    384: '<path d="M3 20L21 7l4 5-18 13zM8 17l2 3M12 14l2 3M16 11l2 3M20 8l2 3"/>',
    421: '<circle cx="13" cy="12" r="8"/><path d="M19 18l6 6M13 8v8M9 12h8"/>',
    472: '<path d="M6 24V13a8 8 0 0 1 16 0v11h-5V13a3 3 0 0 0-6 0v11zM6 19h5M17 19h5"/>',
    511: '<path d="M4 18L15 7l4 4L8 22H4zM13 9l4 4"/><rect x="17" y="18" width="8" height="6"/><path d="M19 18v-3a2 2 0 0 1 4 0"/>',
    549: '<rect x="6" y="13" width="16" height="11" rx="1"/><path d="M9 13V8a4 4 0 0 1 8 0"/><path d="M14 17v3" stroke-width="2"/>',
    587: '<path d="M2 14c6-9 18-9 24 0-6 9-18 9-24 0z"/><circle cx="14" cy="14" r="4"/>',
    625: '<path d="M11 17l7-7a3 3 0 0 1 4 4l-9 9a4 4 0 0 1-6-6l9-9"/>',
    676: '<path d="M6 7h16M9 7l1 17h8l1-17M11 7V4h6v3"/>'
};
for (var ty in leftTools) svg(26, +ty, 28, leftTools[ty]);
[358, 447, 650].forEach(function(y) { rect(8, y, 36, 1, 'background:#e6e6e6;'); });
rect(9, 1024, 34, 34, 'background:#2e2e2e;border-radius:5px;');
svg(26, 1041, 20, '<path d="M10 1l3 6 6 1-4 5 1 6-6-3-6 3 1-6-4-5 6-1z" stroke="#fff"/>');

// right tools
var rightTools = {
    66: '<path d="M5 3h18v22l-9-3-9 3zM9 8h10M9 12h10M9 16h10"/>',
    110: '<circle cx="14" cy="15" r="10"/><path d="M14 9v7H9M3 5l4-3M25 5l-4-3"/>',
    157: '<path d="M14 4l11 6-11 6-11-6zM3 15l11 6 11-6"/>',
    204: '<path d="M3 5h20v14h-8l-3 3v-3H3z"/>',
    772: '<circle cx="14" cy="14" r="12"/><circle cx="14" cy="14" r="7"/><circle cx="14" cy="14" r="1.5" fill="#131722"/><path d="M14 14L22 5"/>',
    815: '<path d="M14 3l9 9-9 5-9-5zM9 14L3 24h22l-6-10"/>',
    860: '<rect x="3" y="6" width="22" height="19" rx="2"/><path d="M3 11h22M8 3v5M20 3v5"/>',
    910: '<circle cx="6" cy="22" r="1.5"/><path d="M5 16c4 0 7 3 7 7M5 11c7 0 12 5 12 12M6 6c9 0 16 7 16 17"/>',
    953: '<path d="M6 21V14a8 8 0 0 1 16 0v7M3 21h22v2H3zM11 25a3 3 0 0 0 6 0"/>',
    1056: '<circle cx="14" cy="14" r="13"/><path d="M10 11a4 4 0 1 1 6 3c-2 1-2 2-2 4M14 21v1"/>'
};
for (var ry in rightTools) svg(1059, +ry, 28, rightTools[ry]);
put(1068, 192, '1', 'badge', 'font-size:11px;');
put(1062, 896, '99+', 'badge');
put(1066, 942, '60', 'badge');
rect(1041, 982, 34, 34, 'background:#2e2e2e;border-radius:50%;');
svg(1058, 999, 18, '<g fill="#fff" stroke="none"><rect width="4" height="4" rx="1"/><rect x="7" width="4" height="4" rx="1"/><rect x="14" width="4" height="4" rx="1"/><rect y="7" width="4" height="4" rx="1"/><rect x="7" y="7" width="4" height="4" rx="1"/><rect x="14" y="7" width="4" height="4" rx="1"/><rect y="14" width="4" height="4" rx="1"/><rect x="7" y="14" width="4" height="4" rx="1"/><rect x="14" y="14" width="4" height="4" rx="1"/></g>');
rect(1042, 1026, 32, 1, 'background:#e6e6e6;');

// bottom bar
var ranges = ['1D', '5D', '1M', '3M', '6M', 'YTD', '1Y', '5Y', 'All'];
var rangeX = [79, 109, 140, 172, 204, 239, 272, 300, 328];
ranges.forEach(function(r, i) { put(rangeX[i], 1061, r, 'c', 'font-size:13px;'); });
rect(350, 1049, 1, 24, 'background:#e6e6e6;');
svg(371, 1061, 18, '<path d="M2 5h14v13h-6M2 5v6M2 9h14M5 2v3M13 2v3M1 14h7M5 11l3 3-3 3"/>');
put(924, 1061, '13:22:50 UTC+8', 'c', 'font-size:13px;');
rect(985, 1049, 1, 24, 'background:#e6e6e6;');
put(1008, 1061, 'ADJ', 'c', 'font-size:13px;');
svg(1000, 1027, 14, '<path d="M4 1h6l4 6-4 6H4L0 7z"/><circle cx="7" cy="7" r="2"/>');
</script>
</body>
</html>
